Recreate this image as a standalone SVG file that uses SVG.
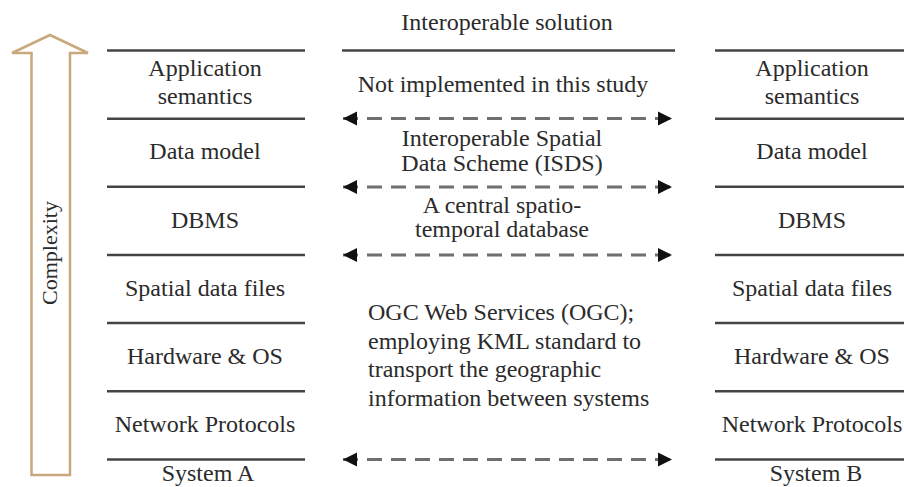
<svg xmlns="http://www.w3.org/2000/svg" width="904" height="487" viewBox="0 0 904 487">
  <style>
    .lbl { font-family: 'Liberation Serif', 'DejaVu Serif', 'Times New Roman', Times, serif; font-size: 24px; fill: #2b2b2b; }
    .mid { text-anchor: middle; }
    .layer { stroke: #444; stroke-width: 2.5; fill: none; }
    .link { stroke: #6f6f6f; stroke-width: 3; stroke-dasharray: 15 9; fill: none; }
    .axis { stroke: #c9a87e; stroke-width: 2.5; fill: #fff; stroke-linejoin: miter; }
  </style>
  <defs>
    <marker id="head" markerUnits="userSpaceOnUse" markerWidth="16" markerHeight="16" refX="15" refY="8" orient="auto-start-reverse">
      <path d="M1,1 L15,8 L1,15 z" fill="#111"/>
    </marker>
  </defs>
  <rect width="904" height="487" fill="#fff"/>

  <!-- Complexity axis -->
  <g id="complexity">
    <path class="axis" d="M31.5,475 L31.5,53 L12,53 L50,35 L88,53 L70,53 L70,475 Z"/>
    <text class="lbl mid" style="font-size:22px" transform="translate(57,253) rotate(-90)">Complexity</text>
  </g>

  <!-- System A layer stack -->
  <g id="system-a">
    <g class="layer">
      <line x1="107" y1="50.5" x2="305" y2="50.5"/>
      <line x1="107" y1="118.7" x2="305" y2="118.7"/>
      <line x1="107" y1="186.8" x2="305" y2="186.8"/>
      <line x1="107" y1="255" x2="305" y2="255"/>
      <line x1="107" y1="323.1" x2="305" y2="323.1"/>
      <line x1="107" y1="391.3" x2="305" y2="391.3"/>
      <line x1="107" y1="459.4" x2="305" y2="459.4"/>
    </g>
    <text class="lbl mid" x="205" y="76">Application</text>
    <text class="lbl mid" x="205" y="104">semantics</text>
    <text class="lbl mid" x="205" y="159">Data model</text>
    <text class="lbl mid" x="205" y="228">DBMS</text>
    <text class="lbl mid" x="205" y="296">Spatial data files</text>
    <text class="lbl mid" x="205" y="364">Hardware &amp; OS</text>
    <text class="lbl mid" x="205" y="432">Network Protocols</text>
    <text class="lbl mid" x="208" y="481">System A</text>
  </g>

  <!-- System B layer stack -->
  <g id="system-b">
    <g class="layer">
      <line x1="715" y1="50.5" x2="904" y2="50.5"/>
      <line x1="715" y1="118.7" x2="904" y2="118.7"/>
      <line x1="715" y1="186.8" x2="904" y2="186.8"/>
      <line x1="715" y1="255" x2="904" y2="255"/>
      <line x1="715" y1="323.1" x2="904" y2="323.1"/>
      <line x1="715" y1="391.3" x2="904" y2="391.3"/>
      <line x1="715" y1="459.4" x2="904" y2="459.4"/>
    </g>
    <text class="lbl mid" x="812" y="76">Application</text>
    <text class="lbl mid" x="812" y="104">semantics</text>
    <text class="lbl mid" x="812" y="159">Data model</text>
    <text class="lbl mid" x="812" y="228">DBMS</text>
    <text class="lbl mid" x="812" y="296">Spatial data files</text>
    <text class="lbl mid" x="812" y="364">Hardware &amp; OS</text>
    <text class="lbl mid" x="812" y="432">Network Protocols</text>
    <text class="lbl mid" x="816" y="481">System B</text>
  </g>

  <!-- Interoperable solution column -->
  <g id="solution">
    <text class="lbl mid" x="507" y="30">Interoperable solution</text>
    <line class="layer" x1="342" y1="50.5" x2="675" y2="50.5"/>
    <text class="lbl mid" x="503" y="92">Not implemented in this study</text>
    <text class="lbl mid" x="502" y="146">Interoperable Spatial</text>
    <text class="lbl mid" x="502" y="171">Data Scheme (ISDS)</text>
    <text class="lbl mid" x="502" y="213">A central spatio-</text>
    <text class="lbl mid" x="502" y="237">temporal database</text>
    <text class="lbl" x="368" y="320">OGC Web Services (OGC);</text>
    <text class="lbl" x="368" y="348.5">employing KML standard to</text>
    <text class="lbl" x="368" y="377">transport the geographic</text>
    <text class="lbl" x="368" y="405.5">information between systems</text>
  </g>

  <!-- Two-way links between the stacks -->
  <g id="connectors">
    <line class="link" x1="343" y1="118.5" x2="672" y2="118.5" marker-start="url(#head)" marker-end="url(#head)"/>
    <line class="link" x1="343" y1="187" x2="672" y2="187" marker-start="url(#head)" marker-end="url(#head)"/>
    <line class="link" x1="343" y1="255" x2="672" y2="255" marker-start="url(#head)" marker-end="url(#head)"/>
    <line class="link" x1="343" y1="459.5" x2="672" y2="459.5" marker-start="url(#head)" marker-end="url(#head)"/>
  </g>
</svg>
